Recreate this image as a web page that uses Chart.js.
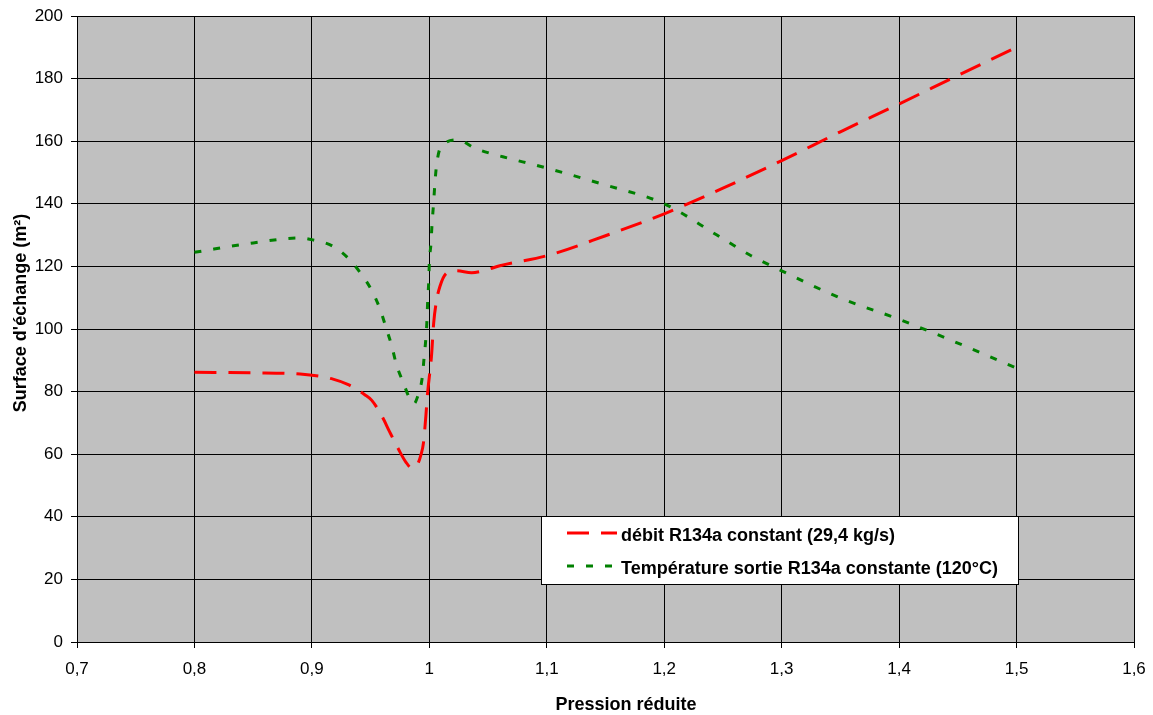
<!DOCTYPE html>
<html>
<head>
<meta charset="utf-8">
<script src="https://cdn.jsdelivr.net/npm/chart.js@4/dist/chart.umd.min.js"></script>
<style>
  html, body { margin: 0; padding: 0; background: #fff; }
  #wrap { position: relative; width: 1153px; height: 715px; }
</style>
</head>
<body>
<div id="wrap"><canvas id="c" width="1153" height="715"></canvas></div>
<script>
const redLabel = "débit R134a constant (29,4 kg/s)";
const greenLabel = "Température sortie R134a constante (120°C)";
const xTitle = "Pression réduite";
const yTitle = "Surface d'échange (m²)";

const redX = [0.80, 0.85, 0.89, 0.918, 0.931, 0.945, 0.951, 0.960, 0.966, 0.974, 0.980, 0.985, 0.990, 0.993, 0.995, 0.997, 0.9985, 1.0018, 1.0037, 1.006, 1.009, 1.0145, 1.023, 1.036, 1.0486, 1.06, 1.1, 1.15, 1.2, 1.25, 1.3, 1.35, 1.4, 1.45, 1.5];
const redY = [86.2, 86.0, 85.6, 84.0, 82.2, 79.0, 77.2, 71.9, 67.3, 61.4, 57.5, 55.6, 56.8, 60.0, 63.6, 72.0, 79.5, 91.2, 101.9, 108.8, 113.6, 117.8, 118.6, 118.0, 118.9, 120.2, 123.4, 129.8, 136.8, 145.0, 153.8, 163.0, 171.9, 181.0, 190.0];

const greenX = [0.80, 0.85, 0.89, 0.898, 0.918, 0.931, 0.9416, 0.951, 0.958, 0.963, 0.968, 0.972, 0.978, 0.983, 0.987, 0.990, 0.994, 0.9955, 0.997, 0.998, 0.9986, 0.9995, 1.0, 1.0014, 1.0023, 1.0035, 1.0046, 1.006, 1.010, 1.0245, 1.0386, 1.0528, 1.067, 1.1, 1.15, 1.2, 1.2445, 1.274, 1.3, 1.35, 1.4, 1.45, 1.5];
const greenY = [124.5, 127.5, 129.1, 128.7, 126.4, 122.6, 117.8, 112.3, 106.4, 100.6, 94.6, 88.6, 82.7, 78.0, 76.2, 78.4, 84.6, 90.7, 96.8, 102.9, 109.0, 115.2, 121.2, 127.4, 133.5, 139.6, 145.7, 151.9, 158.3, 160.4, 157.8, 156.0, 154.6, 151.4, 146.0, 140.0, 130.1, 123.4, 118.6, 109.9, 103.1, 95.5, 87.5];

const xMin = 0.7, xMax = 1.6, xStep = 0.1;
const yMin = 0, yMax = 200, yStep = 20;

const toPts = (xs, ys) => xs.map((x, i) => ({ x: x, y: ys[i] }));

const FONT = "'Liberation Sans', Arial, sans-serif";

const bgPlugin = {
  id: 'plotBg',
  beforeDraw(chart) {
    const { ctx, chartArea: a } = chart;
    ctx.save();
    ctx.fillStyle = '#C0C0C0';
    ctx.fillRect(a.left, a.top, a.right - a.left, a.bottom - a.top);
    ctx.restore();
  }
};

const titlesPlugin = {
  id: 'axisTitles',
  afterDraw(chart) {
    const { ctx } = chart;
    ctx.save();
    ctx.fillStyle = '#000';
    ctx.font = "bold 18px " + FONT;
    ctx.textAlign = 'center';
    ctx.textBaseline = 'middle';
    ctx.fillText(xTitle, 626, 705);
    ctx.translate(21, 313);
    ctx.rotate(-Math.PI / 2);
    ctx.fillText(yTitle, 0, 0);
    ctx.restore();
  }
};

const legendPlugin = {
  id: 'boxLegend',
  afterDraw(chart) {
    const { ctx } = chart;
    const bx = 541, by = 516, bw = 477, bh = 68;
    ctx.save();
    ctx.fillStyle = '#fff';
    ctx.fillRect(bx, by, bw, bh);
    ctx.strokeStyle = '#000';
    ctx.lineWidth = 1;
    ctx.strokeRect(bx + 0.5, by + 0.5, bw, bh);
    const items = chart.data.datasets;
    const rows = [533, 566];
    items.forEach((ds, i) => {
      const y = rows[i];
      ctx.strokeStyle = ds.borderColor;
      ctx.lineWidth = 3;
      ctx.setLineDash(ds.borderDash);
      ctx.beginPath();
      ctx.moveTo(567, y);
      ctx.lineTo(617, y);
      ctx.stroke();
      ctx.setLineDash([]);
      ctx.fillStyle = '#000';
      ctx.font = "bold 18px " + FONT;
      ctx.textBaseline = 'middle';
      ctx.fillText(ds.label, 621, y + 3);
    });
    ctx.restore();
  }
};

new Chart(document.getElementById('c'), {
  type: 'line',
  data: {
    datasets: [
      {
        label: redLabel,
        data: toPts(redX, redY),
        borderColor: '#FF0000',
        borderWidth: 3,
        borderDash: [22, 12],
        pointRadius: 0,
        fill: false,
        cubicInterpolationMode: 'monotone'
      },
      {
        label: greenLabel,
        data: toPts(greenX, greenY),
        borderColor: '#008000',
        borderWidth: 3,
        borderDash: [7, 12],
        pointRadius: 0,
        fill: false,
        cubicInterpolationMode: 'monotone'
      }
    ]
  },
  options: {
    responsive: false,
    animation: false,
    layout: { padding: { left: 0, right: 19, top: 16, bottom: 0 } },
    plugins: {
      legend: { display: false },
      tooltip: { enabled: false }
    },
    scales: {
      x: {
        type: 'linear',
        min: xMin, max: xMax,
        ticks: {
          stepSize: xStep,
          color: '#000',
          font: { family: FONT, size: 17 },
          padding: 11,
          maxRotation: 0,
          callback: v => String(Math.round(v * 10) / 10).replace('.', ',')
        },
        grid: { color: '#000', lineWidth: 1, tickLength: 6, tickColor: '#000' },
        border: { color: '#000', width: 1 },
        afterFit(s) { s.height = 73; s.paddingLeft = 0; s.paddingRight = 0; }
      },
      y: {
        type: 'linear',
        min: yMin, max: yMax,
        ticks: {
          stepSize: yStep,
          color: '#000',
          font: { family: FONT, size: 17 },
          padding: 8
        },
        grid: { color: '#000', lineWidth: 1, tickLength: 6, tickColor: '#000' },
        border: { color: '#000', width: 1 },
        afterFit(s) { s.width = 77; s.paddingTop = 0; s.paddingBottom = 0; }
      }
    }
  },
  plugins: [bgPlugin, legendPlugin, titlesPlugin]
});
</script>
</body>
</html>
